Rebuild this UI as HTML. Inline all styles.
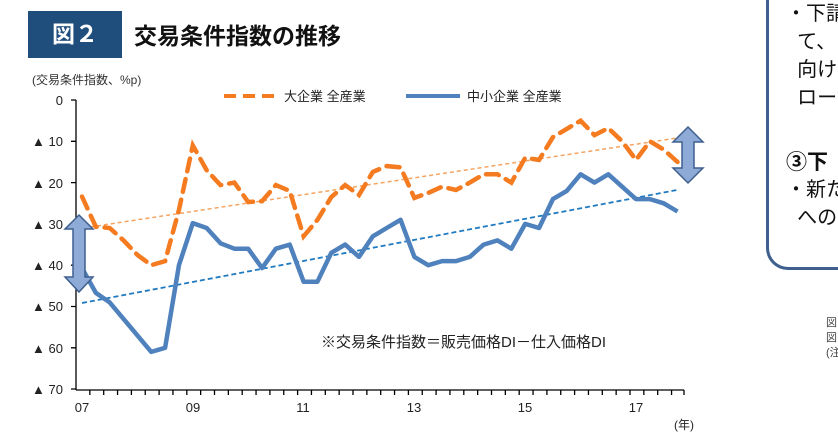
<!DOCTYPE html>
<html><head><meta charset="utf-8"><style>
body{margin:0;width:838px;height:435px;overflow:hidden;background:#fff;font-family:"Liberation Sans","Noto Sans CJK JP",sans-serif;position:relative}
.a{position:absolute;white-space:nowrap}
</style></head><body>
<div class="a" style="left:28px;top:11px;width:94px;height:47px;background:#1f4e7d;color:#fff;font-weight:bold;font-size:23px;line-height:47px;text-align:center">図２</div>
<div class="a" style="left:134px;top:17px;font-weight:bold;font-size:23px;color:#111">交易条件指数の推移</div>
<div class="a" style="left:32px;top:71px;font-size:12px;color:#333">(交易条件指数、%p)</div>
<div class="a" style="left:766px;top:0;width:100px;height:267px;border:3px solid #3f5f8f;border-right:none;border-radius:0 0 0 22px;border-top:none"></div>
<div class="a" style="left:786px;top:0px;font-size:20px;line-height:28px;color:#111">・下請<br>&nbsp;&nbsp;て、<br>&nbsp;&nbsp;向け<br>&nbsp;&nbsp;ロー</div>
<div class="a" style="left:786px;top:146px;font-size:21px;font-weight:bold;color:#111">③下</div>
<div class="a" style="left:786px;top:176px;font-size:20px;line-height:28px;color:#111">・新た<br>&nbsp;&nbsp;への</div>
<div class="a" style="left:826px;top:316px;font-size:11px;line-height:15px;color:#444">図<br>図<br>(注</div>
<svg class="a" style="left:0;top:0" width="838" height="435" font-family="Liberation Sans, Noto Sans CJK JP, sans-serif">
<g font-size="13" fill="#222" text-anchor="end">
<text x="63" y="105">0</text><text x="63" y="146">▲ 10</text><text x="63" y="188">▲ 20</text><text x="63" y="229">▲ 30</text><text x="63" y="270">▲ 40</text><text x="63" y="311">▲ 50</text><text x="63" y="353">▲ 60</text><text x="63" y="394">▲ 70</text>
</g>
<g stroke="#000" stroke-width="1.3">
<line x1="76" y1="100" x2="76" y2="390"/><line x1="76" y1="390" x2="684" y2="390"/>
<path d="M71 100H76M71 141.3H76M71 182.6H76M71 223.9H76M71 265.2H76M71 306.5H76M71 347.8H76M71 389H76"/>
<path d="M89.85 390v5M103.7 390v5M117.55 390v5M131.4 390v5M145.25 390v5M159.1 390v5M172.95 390v5M186.8 390v5M200.65 390v5M214.5 390v5M228.35 390v5M242.2 390v5M256.05 390v5M269.9 390v5M283.75 390v5M297.6 390v5M311.45 390v5M325.3 390v5M339.15 390v5M353 390v5M366.85 390v5M380.7 390v5M394.55 390v5M408.4 390v5M422.25 390v5M436.1 390v5M449.95 390v5M463.8 390v5M477.65 390v5M491.5 390v5M505.35 390v5M519.2 390v5M533.05 390v5M546.9 390v5M560.75 390v5M574.6 390v5M588.45 390v5M602.3 390v5M616.15 390v5M630 390v5M643.85 390v5M657.7 390v5M671.55 390v5M684 390v5"/>
</g>
<g font-size="13" fill="#222" text-anchor="middle">
<text x="82" y="412">07</text><text x="193" y="412">09</text><text x="303" y="412">11</text><text x="414" y="412">13</text><text x="525" y="412">15</text><text x="636" y="412">17</text>
<text x="684" y="429" font-size="12">(年)</text>
</g>
<line x1="90" y1="227" x2="677" y2="138" stroke="#f4a460" stroke-width="1.5" stroke-dasharray="4,3"/>
<line x1="82" y1="303" x2="677" y2="190" stroke="#1f7ac0" stroke-width="1.8" stroke-dasharray="5,3"/>
<polyline fill="none" stroke="#4f81bd" stroke-width="4.5" stroke-linejoin="round" points="82,268.1 95.85,292.9 109.7,302.4 123.55,318.9 137.4,335.4 151.25,351.9 165.1,347.8 178.95,265.2 192.8,223.1 206.65,228 220.5,243.3 234.35,248.7 248.2,248.7 262.05,268.1 275.9,248.7 289.75,244.6 303.6,281.7 317.45,281.7 331.3,252.8 345.15,244.6 359,256.9 372.85,236.3 386.7,228 400.55,219.8 414.4,256.9 428.25,265.2 442.1,261.1 455.95,261.1 469.8,256.9 483.65,244.6 497.5,240.4 511.35,248.7 525.2,223.9 539.05,228 552.9,199.1 566.75,190.9 580.6,174.3 594.45,182.6 608.3,174.3 622.15,186.7 636,199.1 649.85,199.1 663.7,203.3 677.55,211.5"/>
<polyline fill="none" stroke="#f47b20" stroke-width="4.5" stroke-dasharray="13,8" stroke-linecap="round" points="82,196.6 95.85,226.8 109.7,228 123.55,240.4 137.4,254.9 151.25,265.2 165.1,261.1 178.95,209.9 192.8,145.4 206.65,170.2 220.5,185.1 234.35,182.6 248.2,202 262.05,201.2 275.9,185.1 289.75,190.9 303.6,236.3 317.45,219.8 331.3,197.1 345.15,185.1 359,195 372.85,171.9 386.7,166.1 400.55,167.3 414.4,197.9 428.25,192.9 442.1,186.7 455.95,190 469.8,182.6 483.65,174.3 497.5,174.3 511.35,182.6 525.2,157.8 539.05,159.9 552.9,137.2 566.75,128.9 580.6,120.7 594.45,135.1 608.3,128.1 622.15,141.3 636,159.9 649.85,141.3 663.7,149.6 677.55,162"/>
<g fill="#8eaad6" stroke="#3f5f8f" stroke-width="1.5">
<path d="M79 215 L93 229 H85 V277 H93 L79 292 L65 277 H73 V229 H65 Z"/>
<path d="M688 127 L703 142 H694 V168 H703 L688 183 L673 168 H682 V142 H673 Z"/>
</g>
<line x1="224" y1="96" x2="276" y2="96" stroke="#f47b20" stroke-width="4" stroke-dasharray="12,7"/>
<text x="284" y="101" font-size="13" fill="#222">大企業 全産業</text>
<line x1="406" y1="96" x2="460" y2="96" stroke="#4f81bd" stroke-width="4"/>
<text x="467" y="101" font-size="13" fill="#222">中小企業 全産業</text>
<text x="321" y="347" font-size="15" fill="#222">※交易条件指数＝販売価格DI－仕入価格DI</text>
</svg>
</body></html>
